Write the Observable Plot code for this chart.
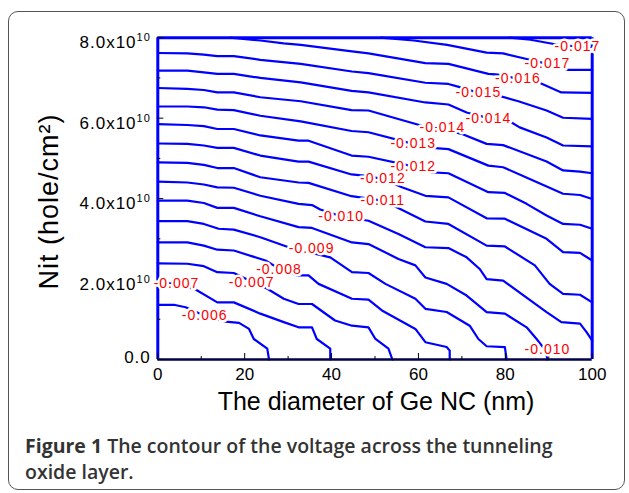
<!DOCTYPE html>
<html><head><meta charset="utf-8">
<script src="https://cdn.jsdelivr.net/npm/d3@7"></script>
<script src="https://cdn.jsdelivr.net/npm/@observablehq/plot@0.6"></script>
<style>
html,body{margin:0;padding:0;background:#fff;}
#wrap{position:relative;width:629px;height:493px;overflow:hidden;background:#fff;}
#frame{position:absolute;left:8px;top:11px;width:617px;height:479px;border:1.5px solid #555;border-radius:10px;box-sizing:border-box;}
#chart{position:absolute;left:0;top:0;}
#chart svg, #chart svg text{font-family:"Liberation Sans", Arial, Helvetica, sans-serif !important;}
#caption{position:absolute;left:25px;top:433px;width:600px;font-family:"Open Sans",sans-serif;font-size:19.5px;font-weight:600;color:#333;line-height:26px;white-space:nowrap;}
#caption b{font-weight:700;}
g[fill="#ff0000"]{letter-spacing:1px;}
g[aria-label="y-axis tick label"]{letter-spacing:1px;}
</style></head>
<body>
<div id="wrap">
  <div id="frame"></div>
  <div id="chart"></div>
  <div id="caption"><b>Figure 1</b> The contour of the voltage across the tunneling<br>oxide layer.</div>
</div>
<script>
// ---- axis values (y in units of 1e10 hole/cm^2) ----
const xDomain = [0, 100];
const yDomain = [0, 8];
const xTickValues = [0, 20, 40, 60, 80, 100];
const xMinorTicks = [10, 30, 50, 70, 90];
const yTickValues = [0, 2, 4, 6, 8];
const yMinorTicks = [1, 3, 5, 7];
const yTickLabels = ["0.0", "2.0x10", "4.0x10", "6.0x10", "8.0x10"];
const yExponent = "10";
const xTitle = "The diameter of Ge NC (nm)";
const yTitle = "Nit (hole/cm\u00B2)";

// ---- contour lines [x, y] ----
const c01 = [[81.0,8.0],[85.8,7.95],[91.8,7.83],[96.6,7.78],[100,7.74]];
const c02 = [[51.3,8.0],[58.9,7.93],[66.6,7.82],[75.7,7.63],[79.5,7.61],[84.9,7.47],[89.7,7.35],[94.5,7.20],[100,7.20]];
const c03 = [[16.7,8.0],[23.6,7.93],[29.0,7.86],[32.9,7.82],[44.7,7.66],[48.5,7.61],[61.6,7.37],[66.9,7.35],[76.1,7.10],[78.4,7.08],[82.9,6.98],[87.6,6.89],[92.9,6.64],[100,6.63]];
const c04 = [[0,7.62],[6.8,7.61],[10.6,7.58],[13.7,7.54],[17.5,7.54],[23.6,7.45],[32.9,7.35],[44.7,7.16],[48.5,7.12],[61.6,6.88],[66.9,6.85],[69.5,6.77],[73.8,6.63],[78.4,6.56],[83.0,6.42],[89.5,6.19],[93.3,6.01],[100,5.98]];
const c05 = [[0,7.18],[6.8,7.18],[10.6,7.14],[13.7,7.10],[17.5,7.10],[23.6,7.00],[32.9,6.89],[44.6,6.68],[48.5,6.64],[61.6,6.39],[66.9,6.34],[71.1,6.14],[76.1,6.00],[80.7,5.94],[83.3,5.77],[89.5,5.52],[93.3,5.32],[100,5.30]];
const c06 = [[0,6.75],[6.8,6.73],[10.6,6.70],[13.7,6.64],[17.5,6.64],[23.6,6.52],[32.9,6.42],[44.6,6.20],[48.5,6.19],[60.8,5.81],[65.5,5.73],[69.9,5.61],[75.7,5.36],[79.5,5.33],[89.5,4.92],[93.3,4.70],[97.2,4.67],[100,4.63]];
const c07 = [[0,6.29],[6.8,6.29],[10.6,6.27],[13.7,6.21],[17.5,6.20],[23.6,6.06],[32.9,5.92],[44.6,5.68],[48.5,5.65],[58.8,5.36],[63.1,5.26],[66.9,5.23],[76.1,4.82],[79.5,4.78],[86.4,4.45],[93.3,4.12],[97.2,4.09],[100,3.99]];
const c08 = [[0,5.85],[6.8,5.83],[10.6,5.80],[13.7,5.73],[17.5,5.73],[23.6,5.57],[32.4,5.44],[34.7,5.44],[44.6,5.07],[48.5,5.04],[58.8,4.80],[63.1,4.65],[66.9,4.63],[76.1,4.16],[79.9,4.14],[84.9,3.87],[89.5,3.58],[93.3,3.37],[97.2,3.35],[100,3.25]];
const c09 = [[0,5.37],[6.8,5.36],[10.6,5.32],[13.7,5.26],[17.5,5.26],[23.6,5.07],[32.4,4.92],[34.7,4.92],[44.6,4.60],[47.4,4.57],[51.8,4.49],[56.2,4.28],[61.6,4.07],[66.9,4.03],[75.7,3.51],[79.9,3.50],[89.5,3.00],[93.3,2.67],[97.2,2.65],[100,2.46]];
const c10 = [[0,4.90],[6.8,4.89],[10.6,4.84],[13.7,4.76],[17.5,4.76],[23.6,4.53],[32.4,4.40],[34.7,4.39],[44.6,4.06],[47.4,4.02],[51.8,3.95],[55.8,3.74],[61.6,3.43],[66.9,3.37],[75.7,2.83],[79.9,2.81],[86.8,2.34],[90.2,1.88],[93.3,1.63],[97.2,1.61],[100,1.42]];
const c11 = [[0,4.42],[6.8,4.40],[10.6,4.35],[13.7,4.28],[17.5,4.27],[23.6,4.07],[32.4,3.87],[35.5,3.84],[37.4,3.73],[42.2,3.56],[46.6,3.48],[48.5,3.45],[55.4,3.12],[61.6,2.79],[66.9,2.77],[71.1,2.54],[74.1,2.25],[75.7,2.00],[79.5,1.96],[89.5,1.18],[92.9,0.93],[97.2,0.89],[98.7,0.68],[100,0.47]];
const c12 = [[0,3.95],[6.8,3.95],[10.6,3.89],[13.7,3.77],[17.5,3.77],[23.6,3.56],[32.4,3.29],[35.5,3.27],[44.7,2.91],[48.5,2.87],[55.4,2.50],[59.3,2.34],[61.6,2.04],[66.5,1.88],[71.1,1.59],[75.7,1.18],[79.9,1.14],[84.9,0.80],[87.2,0.51],[89.3,0.22],[89.7,0]];
const c13 = [[0,3.44],[6.8,3.44],[10.6,3.37],[14.0,3.25],[17.5,3.23],[23.6,3.04],[30.6,2.77],[35.4,2.65],[39.7,2.54],[44.7,2.17],[48.5,2.15],[52.4,1.88],[59.3,1.51],[61.6,1.26],[66.5,1.18],[71.8,0.84],[73.8,0.51],[75.7,0.33],[79.9,0.31],[80.3,0]];
const c14 = [[0,2.91],[6.8,2.91],[10.6,2.83],[13.7,2.73],[17.5,2.71],[24.8,2.46],[27.9,2.26],[32.1,2.09],[34.7,2.09],[37.0,1.88],[44.7,1.51],[48.5,1.49],[51.6,1.22],[59.3,0.76],[61.6,0.43],[66.5,0.31],[67.2,0.22],[67.2,0]];
const c15 = [[0,2.39],[6.8,2.38],[10.6,2.32],[13.7,2.17],[17.5,2.15],[21.6,1.94],[25.2,1.76],[29.0,1.51],[32.4,1.38],[35.5,1.38],[40.8,0.97],[44.7,0.84],[48.5,0.80],[50.1,0.51],[53.1,0.27],[54.0,0]];
const c16 = [[0,1.91],[3.8,1.89],[8.7,1.74],[13.7,1.42],[17.5,1.42],[23.6,1.14],[29.0,0.93],[32.4,0.80],[35.5,0.80],[36.6,0.51],[39.7,0.27],[39.7,0]];
const c17 = [[0,1.36],[3.7,1.36],[6.4,1.30],[10.8,1.09],[15.6,0.94],[18.7,0.91],[21.0,0.76],[22.1,0.51],[25.2,0.27],[25.6,0]];

// ---- contour labels ----
const labelText = ["-0.017","-0.017","-0.016","-0.015","-0.014","-0.014","-0.013","-0.012","-0.012","-0.011","-0.010","-0.010","-0.009","-0.008","-0.007","-0.007","-0.006"];
const labelX = [96.6, 89.7, 82.9, 73.8, 76.1, 65.5, 58.8, 58.8, 51.8, 51.8, 42.2, 89.7, 35.4, 27.9, 21.6, 4.3, 10.8];
const labelY = [7.78, 7.35, 6.98, 6.63, 6.00, 5.77, 5.36, 4.80, 4.49, 3.95, 3.56, 0.25, 2.76, 2.24, 1.91, 1.89, 1.09];

// ---- build ----
const contours = [c01,c02,c03,c04,c05,c06,c07,c08,c09,c10,c11,c12,c13,c14,c15,c16,c17];
const contourRows = contours.flatMap((pts, id) => pts.map(([x, y]) => ({x, y, id})));
const labelIdx = labelText.map((_, i) => i);

const W = 629, H = 425, ML = 157.3, MR = 37.3, MT = 37.2, MB = 66;
const PW = W - ML - MR, PH = H - MT - MB;
const yFmt = d => yTickLabels[yTickValues.indexOf(d)];
const FONT = "Liberation Sans";

const chart = Plot.plot({
  width: W, height: H,
  marginLeft: ML, marginRight: MR, marginTop: MT, marginBottom: MB,
  x: {domain: xDomain},
  y: {domain: yDomain},
  style: {fontFamily: FONT, background: "transparent", color: "black", overflow: "visible"},
  marks: [
    Plot.line(contourRows, {x: "x", y: "y", z: "id", stroke: "#0000ff", strokeWidth: 2.2, strokeLinejoin: "round"}),
    Plot.ruleY([yDomain[0]], {stroke: "#00004d", strokeWidth: 2.5}),
    Plot.ruleX(xDomain, {stroke: "#0000ff", strokeWidth: 3}),
    Plot.ruleY([yDomain[1]], {stroke: "#0000ff", strokeWidth: 3}),
    Plot.tickX(xMinorTicks, {x: d => d, stroke: "black", insetTop: PH - 3}),
    Plot.tickX(xTickValues, {x: d => d, stroke: "black", insetTop: PH - 6}),
    Plot.tickY(yMinorTicks, {y: d => d, stroke: "black", insetRight: PW - 3}),
    Plot.tickY(yTickValues, {y: d => d, stroke: "black", insetRight: PW - 6}),
    Plot.axisX({ticks: xTickValues, tickSize: 0, tickPadding: 8, fontSize: 17, fontFamily: FONT, tickFormat: d => String(d), label: null}),
    Plot.axisY({ticks: [yTickValues[0]], tickSize: 0, tickPadding: 7, fontSize: 17, fontFamily: FONT, tickFormat: yFmt, label: null, dy: -2}),
    Plot.axisY({ticks: yTickValues.slice(1), tickSize: 0, tickPadding: 7, fontSize: 17, fontFamily: FONT, tickFormat: yFmt, label: null, dy: 5}),
    Plot.text(labelIdx, {x: i => labelX[i], y: i => labelY[i], text: i => labelText[i], fill: "#ff0000", stroke: "white", strokeWidth: 5, paintOrder: "stroke", fontSize: 14, fontFamily: FONT}),
    Plot.text([xTitle], {frameAnchor: "bottom", text: d => d, dy: 50, dx: 1, fontSize: 25, fontFamily: FONT}),
    Plot.text([yTitle], {frameAnchor: "left", textAnchor: "middle", text: d => d, rotate: -90, dx: -108, dy: 3, fontSize: 27, fontFamily: FONT, ariaLabel: "ytitle"})
  ]
});

chart.querySelectorAll('g[aria-label="y-axis tick label"] text').forEach(t => {
  if (t.textContent.endsWith("x10")) {
    const sup = document.createElementNS("http://www.w3.org/2000/svg", "tspan");
    sup.textContent = yExponent;
    sup.setAttribute("dy", "-7");
    sup.setAttribute("font-size", "11");
    t.appendChild(sup);
  }
});
chart.querySelectorAll('text').forEach(t => {
  if (t.textContent === yTitle) t.style.letterSpacing = "1px";
});
document.getElementById("chart").appendChild(chart);
</script>
</body></html>
